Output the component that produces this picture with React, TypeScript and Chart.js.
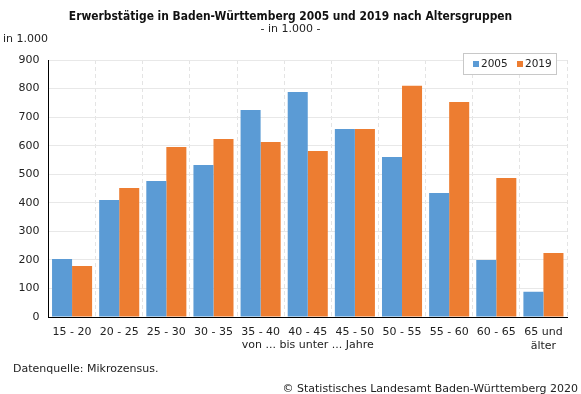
import React, { useEffect, useRef } from "react";
import { Chart, registerables } from "chart.js";

Chart.register(...registerables);

const categories: (string | string[])[] = [
  "15 - 20", "20 - 25", "25 - 30", "30 - 35", "35 - 40", "40 - 45",
  "45 - 50", "50 - 55", "55 - 60", "60 - 65", ["65 und", "älter"],
];
const values2005 = [203, 410, 476, 532, 725, 788, 658, 560, 434, 200, 88];
const values2019 = [179, 452, 595, 623, 613, 581, 658, 810, 753, 487, 224];
const seriesLabels = ["2005", "2019"];
const seriesColors = ["#5b9bd5", "#ed7d31"];

const titleText = "Erwerbstätige in Baden-Württemberg 2005 und 2019 nach Altersgruppen";
const subtitleText = "- in 1.000 -";
const yUnitText = "in 1.000";
const xTitleText = "von ... bis unter ... Jahre";
const sourceText = "Datenquelle: Mikrozensus.";
const copyrightText = "© Statistisches Landesamt Baden-Württemberg 2020";

const FONT = "'DejaVu Sans', Verdana, sans-serif";
const TITLE_FONT = "'DejaVu Sans Condensed', 'DejaVu Sans', sans-serif";

const textPlugin = {
  id: "texts",
  afterDraw(chart: any) {
    const ctx = chart.ctx as CanvasRenderingContext2D;
    const area = chart.chartArea;
    ctx.save();
    ctx.fillStyle = "#111";
    ctx.textBaseline = "middle";
    let size = 12;
    ctx.font = `bold ${size}px ${TITLE_FONT}`;
    const w = ctx.measureText(titleText).width;
    size = Math.min(12.5, (12 * 444) / w);
    ctx.font = `bold ${size}px ${TITLE_FONT}`;
    ctx.textAlign = "center";
    ctx.fillText(titleText, 290.5, 17);
    ctx.font = `11px ${FONT}`;
    ctx.fillStyle = "#222";
    ctx.fillText(subtitleText, 290.5, 29);
    ctx.textAlign = "left";
    ctx.fillText(yUnitText, 3, 39);
    ctx.textAlign = "center";
    ctx.fillText(xTitleText, (area.left + area.right) / 2, 345);
    ctx.textAlign = "left";
    ctx.fillText(sourceText, 13, 369);
    ctx.textAlign = "right";
    ctx.fillText(copyrightText, 578, 389);

    const lx = 463, ly = 53, lw = 93, lh = 21;
    ctx.fillStyle = "#fff";
    ctx.fillRect(lx, ly, lw, lh);
    ctx.strokeStyle = "#c8c8c8";
    ctx.lineWidth = 1;
    ctx.strokeRect(lx + 0.5, ly + 0.5, lw, lh);
    ctx.font = `10.5px ${FONT}`;
    ctx.textAlign = "left";
    const items = [
      { x: 473, tx: 481 },
      { x: 517, tx: 525 },
    ];
    items.forEach((it, i) => {
      ctx.fillStyle = seriesColors[i];
      ctx.fillRect(it.x, 61, 6, 6);
      ctx.fillStyle = "#222";
      ctx.fillText(seriesLabels[i], it.tx, 64);
    });
    ctx.restore();
  },
};

export default function App() {
  const ref = useRef<HTMLCanvasElement | null>(null);
  useEffect(() => {
    if (!ref.current) return;
    const chart = new Chart(ref.current, {
      type: "bar",
      data: {
        labels: categories as any,
        datasets: [
          {
            label: seriesLabels[0],
            data: values2005,
            backgroundColor: seriesColors[0],
            categoryPercentage: 0.85,
            barPercentage: 1,
          },
          {
            label: seriesLabels[1],
            data: values2019,
            backgroundColor: seriesColors[1],
            categoryPercentage: 0.85,
            barPercentage: 1,
          },
        ],
      },
      options: {
        animation: false,
        responsive: false,
        maintainAspectRatio: false,
        layout: { padding: { top: 60, right: 14, left: 0, bottom: 0 } },
        plugins: {
          legend: { display: false },
          title: { display: false },
          tooltip: { enabled: false },
        },
        scales: {
          x: {
            grid: { color: "#e4e4e4", drawTicks: false, offset: true },
            border: { color: "#000", width: 1, dash: [4, 3] },
            ticks: {
              color: "#222",
              font: { family: FONT, size: 11 },
              padding: 9,
              maxRotation: 0,
              autoSkip: false,
            },
            afterFit: (s: any) => {
              s.height = 77;
            },
          },
          y: {
            min: 0,
            max: 900,
            grid: { color: "#e8e8e8", drawTicks: false },
            border: { color: "#000", width: 1 },
            ticks: {
              stepSize: 50,
              color: "#222",
              font: { family: FONT, size: 11 },
              padding: 9,
              callback: (v: any) => (Number(v) % 100 === 0 ? String(v) : ""),
            },
            afterFit: (s: any) => {
              s.width = 48.5;
            },
          },
        },
      },
      plugins: [textPlugin],
    });
    return () => chart.destroy();
  }, []);
  return (
    <div style={{ position: "absolute", left: 0, top: 0, width: 581, height: 394, background: "#fff" }}>
      <canvas ref={ref} width={581} height={394} style={{ width: 581, height: 394 }} />
    </div>
  );
}
